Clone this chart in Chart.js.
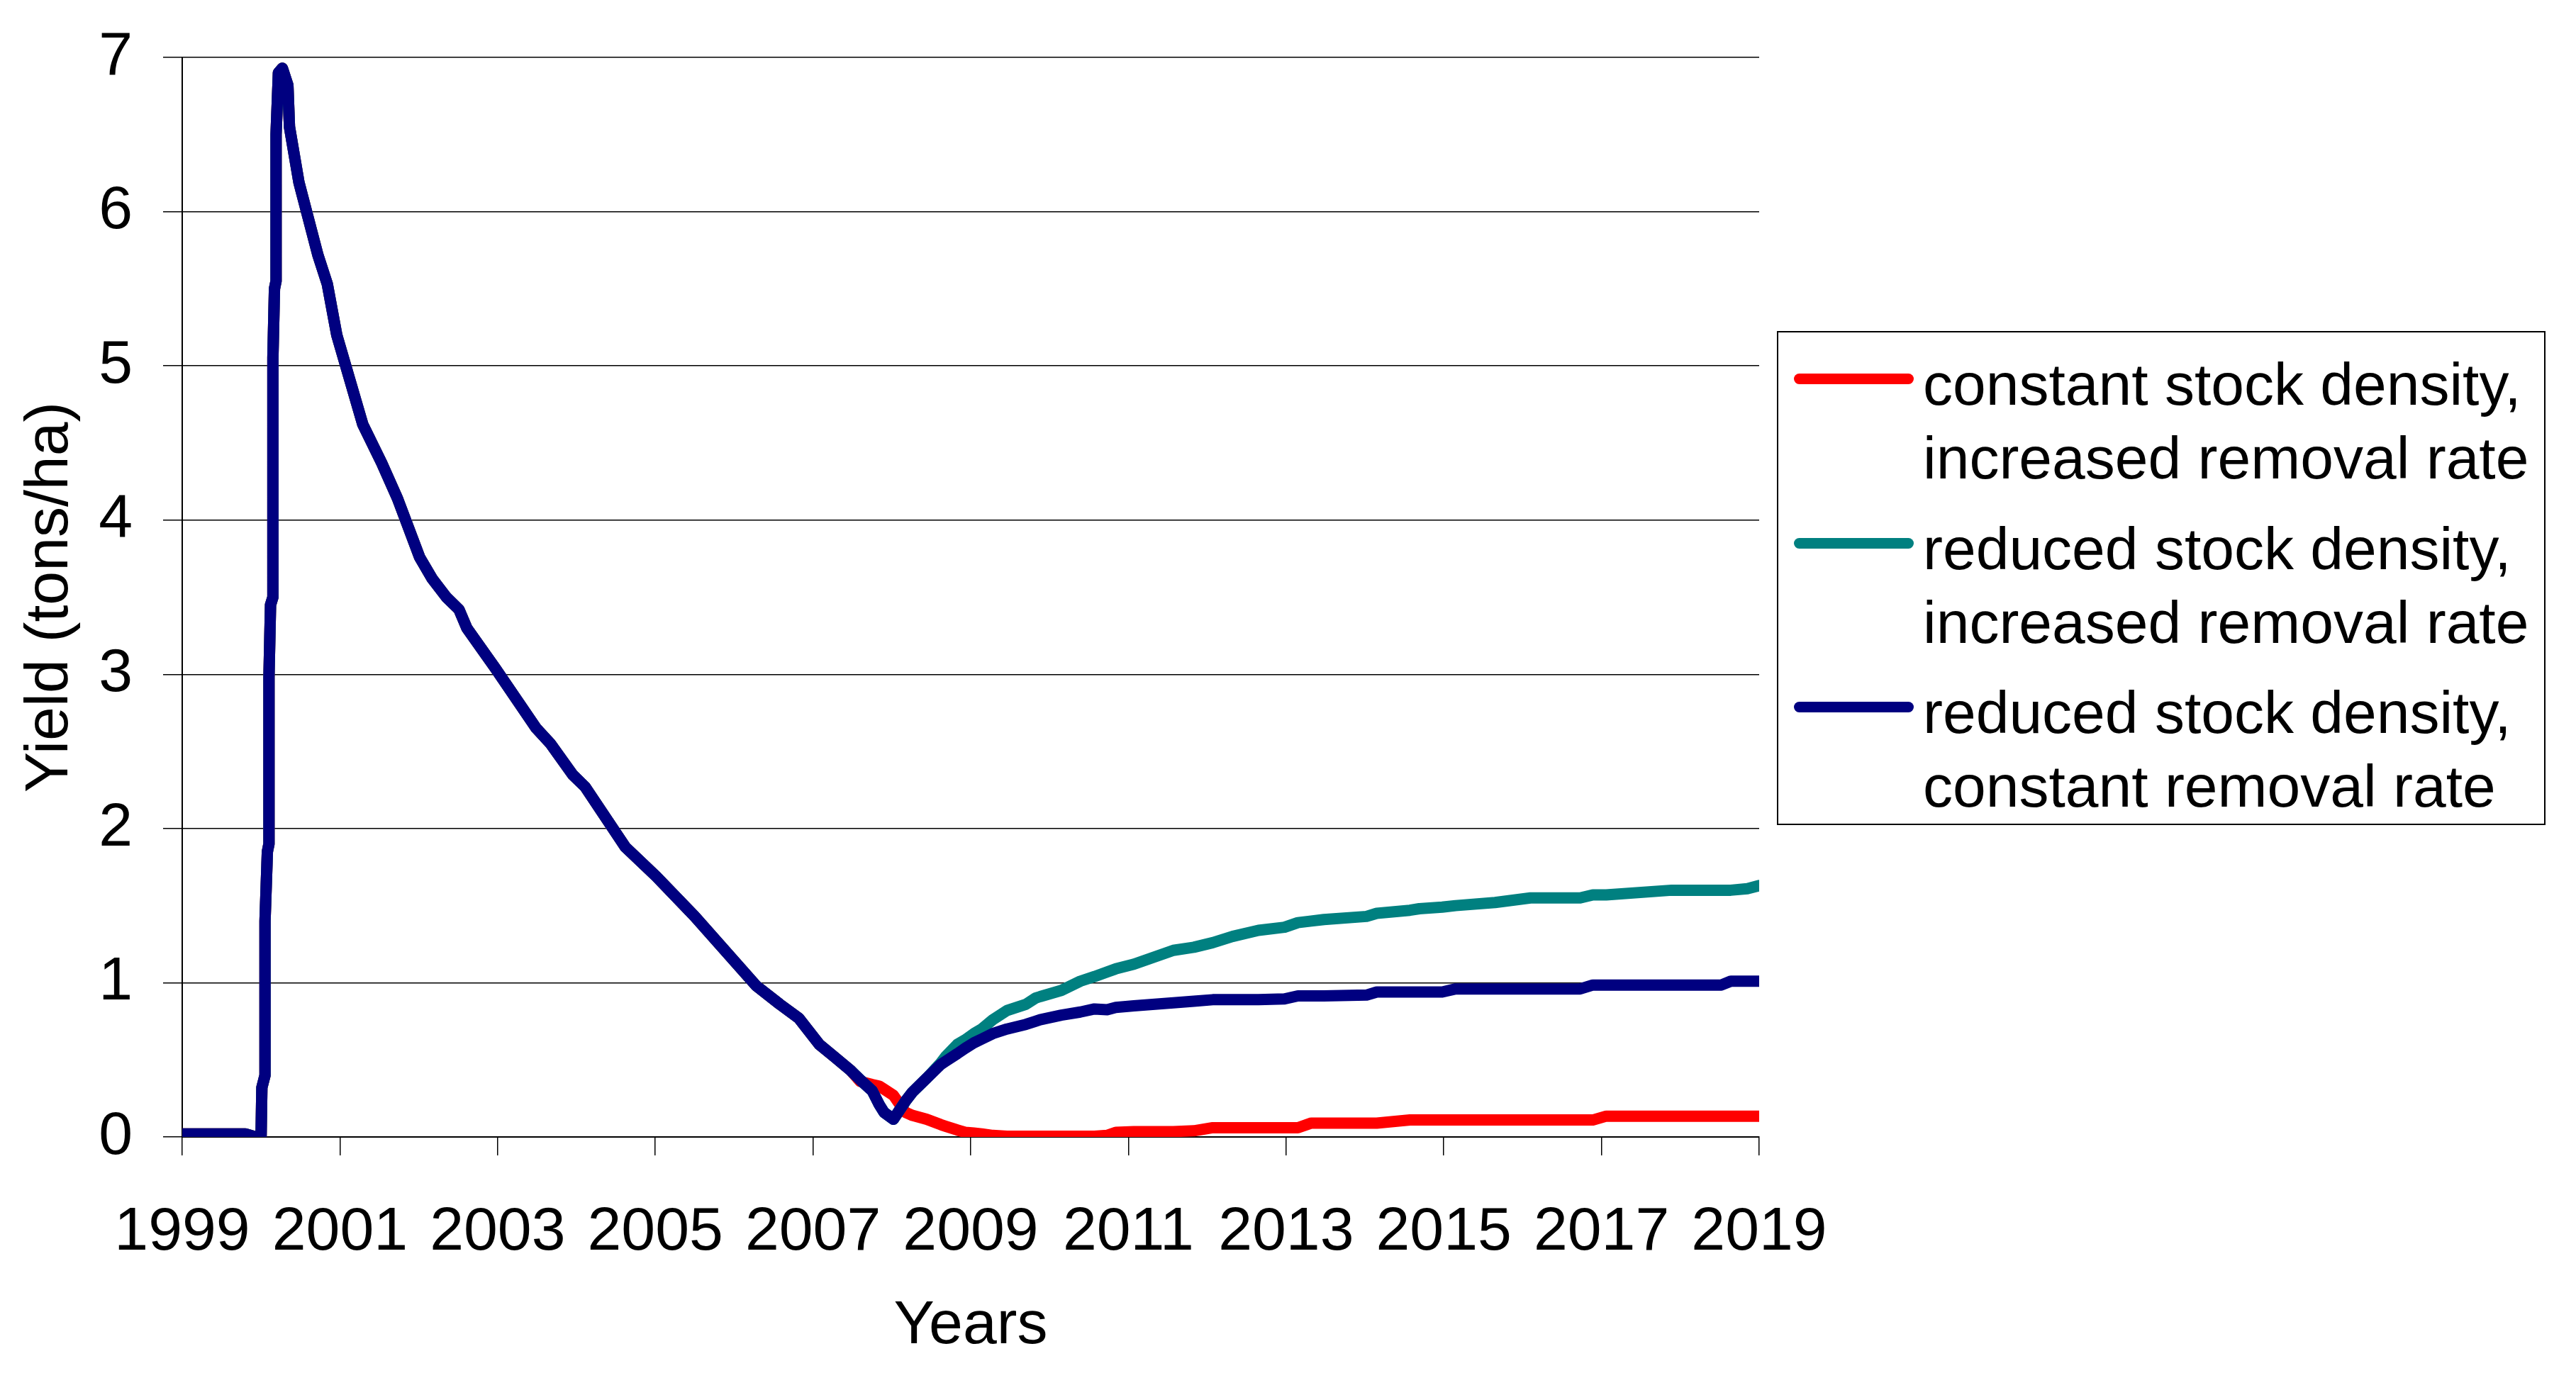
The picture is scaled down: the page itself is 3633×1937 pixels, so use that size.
<!DOCTYPE html>
<html>
<head>
<meta charset="utf-8">
<script src="https://cdn.jsdelivr.net/npm/chart.js@4.4.1/dist/chart.umd.min.js"></script>
<style>
  html, body { margin: 0; padding: 0; background: #fff; }
  #wrap { position: relative; width: 3633px; height: 1937px; }
  #myChart { display: block; }
  #legend {
    position: absolute; left: 2506px; top: 467px; width: 1084px; height: 697px;
    border: 2px solid #000; box-sizing: border-box; background: #fff;
  }
  .item { position: absolute; left: 0; height: 208px; width: 100%; }
  .swatch { position: absolute; left: 22px; top: 37px; width: 169px; height: 15px; border-radius: 8px; }
  .txt {
    position: absolute; left: 204px; top: 0; white-space: nowrap;
    font-family: "Liberation Sans", Arial, sans-serif; font-size: 84px; line-height: 104px; color: #000;
  }
</style>
</head>
<body>
<div id="wrap">
  <canvas id="myChart" width="3633" height="1937"></canvas>
  <div id="legend"></div>
</div>
<script>
// time axis (years), shared by all three series
var years = [
  1999.00, 1999.80, 1999.93, 2000.00, 2000.01, 2000.05, 2000.05, 2000.08, 2000.10, 2000.10,
  2000.12, 2000.15, 2000.15, 2000.17, 2000.19, 2000.19, 2000.22, 2000.27, 2000.34, 2000.36,
  2000.48, 2000.72, 2000.84, 2000.96, 2001.29, 2001.53, 2001.73, 2002.01, 2002.17, 2002.35,
  2002.51, 2002.61, 2002.97, 2003.49, 2003.67, 2003.95, 2004.11, 2004.62, 2005.01, 2005.50,
  2006.28, 2006.58, 2006.82, 2007.08, 2007.27, 2007.48,
  2007.60, 2007.75, 2007.84, 2007.90, 2008.02, 2008.17, 2008.26, 2008.44, 2008.62, 2008.68,
  2008.83, 2008.93, 2009.04, 2009.14, 2009.28, 2009.46, 2009.70, 2009.82, 2009.88, 2010.15,
  2010.39, 2010.57, 2010.73, 2010.84, 2011.07, 2011.57, 2011.83, 2012.07, 2012.32, 2012.65,
  2012.98, 2013.15, 2013.32, 2013.48, 2014.02, 2014.15, 2014.57, 2014.69, 2014.98, 2015.15,
  2015.65, 2016.10, 2016.73, 2016.89, 2017.06, 2017.89, 2018.52, 2018.64, 2018.85, 2019.00
];

// shared early part (all three runs coincide until late 2007)
var early = [
  0.02, 0.02, 0.00, 0.00, 0.32, 0.40, 1.40, 1.85, 1.90, 2.98,
  3.45, 3.50, 5.05, 5.50, 5.55, 6.50, 6.90, 6.93, 6.82, 6.55,
  6.19, 5.72, 5.53, 5.20, 4.62, 4.37, 4.14, 3.76, 3.62, 3.50,
  3.42, 3.30, 3.04, 2.65, 2.55, 2.35, 2.27, 1.88, 1.69, 1.43,
  0.98, 0.86, 0.77, 0.60, 0.52, 0.43
];

var constantStockLate = [
  0.36, 0.34, 0.33, 0.31, 0.27, 0.16, 0.14, 0.115, 0.08, 0.07,
  0.045, 0.03, 0.025, 0.02, 0.01, 0.005, 0.005, 0.005, 0.005, 0.005,
  0.005, 0.005, 0.01, 0.03, 0.035, 0.035, 0.04, 0.06, 0.06, 0.06,
  0.06, 0.06, 0.09, 0.09, 0.09, 0.09, 0.11, 0.11, 0.11, 0.11,
  0.11, 0.11, 0.11, 0.11, 0.135, 0.135, 0.135, 0.135, 0.135, 0.135
];

var reducedIncreasedLate = [
  0.37, 0.30, 0.21, 0.16, 0.115, 0.23, 0.29, 0.38, 0.48, 0.52,
  0.60, 0.63, 0.67, 0.70, 0.76, 0.82, 0.86, 0.90, 0.91, 0.95,
  1.01, 1.04, 1.07, 1.09, 1.12, 1.21, 1.23, 1.26, 1.30, 1.34,
  1.36, 1.39, 1.40, 1.41, 1.43, 1.45, 1.47, 1.48, 1.49, 1.50,
  1.52, 1.55, 1.55, 1.57, 1.57, 1.60, 1.60, 1.60, 1.61, 1.63
];

var reducedConstantLate = [
  0.37, 0.30, 0.21, 0.16, 0.115, 0.23, 0.29, 0.38, 0.47, 0.49,
  0.54, 0.575, 0.61, 0.635, 0.67, 0.70, 0.73, 0.75, 0.76, 0.79,
  0.81, 0.83, 0.825, 0.84, 0.85, 0.87, 0.88, 0.89, 0.89, 0.89,
  0.895, 0.915, 0.915, 0.915, 0.92, 0.94, 0.94, 0.94, 0.94, 0.96,
  0.96, 0.96, 0.96, 0.985, 0.985, 0.985, 0.985, 1.01, 1.01, 1.01
];

var seriesNames = [
  ['constant stock density,', 'increased removal rate'],
  ['reduced stock density,', 'increased removal rate'],
  ['reduced stock density,', 'constant removal rate']
];
var seriesColors = ['#ff0000', '#008080', '#000080'];

var xTicks = [1999, 2001, 2003, 2005, 2007, 2009, 2011, 2013, 2015, 2017, 2019];
var yTicks = [0, 1, 2, 3, 4, 5, 6, 7];

var seriesValues = [
  early.concat(constantStockLate),
  early.concat(reducedIncreasedLate),
  early.concat(reducedConstantLate)
];

function toPoints(vals) {
  return vals.map(function (v, i) { return { x: years[i], y: v }; });
}

Chart.defaults.font.family = '"Liberation Sans", Arial, sans-serif';
Chart.defaults.color = '#000';

var ctx = document.getElementById('myChart').getContext('2d');
var myChart = new Chart(ctx, {
    type: 'line',
    data: {
        datasets: seriesValues.map(function (vals, i) {
            return {
                label: seriesNames[i].join(' '),
                data: toPoints(vals),
                borderColor: seriesColors[i],
                backgroundColor: seriesColors[i],
                borderWidth: 16,
                borderJoinStyle: 'round',
                borderCapStyle: 'round',
                pointRadius: 0,
                tension: 0,
                clip: 0,
                order: 2 - i   // blue on top, like the original
            };
        })
    },
    options: {
        responsive: false,
        animation: false,
        layout: { padding: { left: 0, top: 81, right: 1152, bottom: 0 } },
        plugins: {
            legend: { display: false },
            tooltip: { enabled: false }
        },
        scales: {
            x: {
                type: 'linear',
                min: 1999,
                max: 2019,
                afterBuildTicks: function (s) { s.ticks = xTicks.map(function (v) { return { value: v }; }); },
                afterFit: function (s) { s.height = 333; },
                ticks: {
                    font: { size: 86 },
                    padding: 58,
                    maxRotation: 0,
                    autoSkip: false,
                    callback: function (v) { return String(v); }
                },
                grid: {
                    drawOnChartArea: false,
                    tickLength: 26,
                    color: '#000',
                    lineWidth: 1.5
                },
                border: { display: true, color: '#000', width: 2 },
                title: {
                    display: true,
                    text: 'Years',
                    font: { size: 86 },
                    padding: { top: 0, bottom: 14 }
                }
            },
            y: {
                min: 0,
                max: 7,
                afterBuildTicks: function (s) { s.ticks = yTicks.map(function (v) { return { value: v }; }); },
                afterFit: function (s) {
                    s.width = 257;
                    // keep the plot top where the original has it
                    s.paddingTop = 40;
                    s.paddingBottom = 40;
                },
                ticks: {
                    font: { size: 86 },
                    padding: 43
                },
                grid: {
                    color: '#000',
                    lineWidth: 1.5,
                    tickLength: 27
                },
                border: { display: true, color: '#000', width: 2 },
                title: {
                    display: true,
                    text: 'Yield (tons/ha)',
                    font: { size: 86 },
                    padding: { top: 20, bottom: 0 }
                }
            }
        }
    }
});

// legend box on the right, two-line labels
var legend = document.getElementById('legend');
seriesNames.forEach(function (lines, i) {
    var item = document.createElement('div');
    item.className = 'item';
    item.style.top = (21 + i * 231.5) + 'px';
    var sw = document.createElement('div');
    sw.className = 'swatch';
    sw.style.background = seriesColors[i];
    var txt = document.createElement('div');
    txt.className = 'txt';
    txt.innerHTML = lines.join('<br>');
    item.appendChild(sw);
    item.appendChild(txt);
    legend.appendChild(item);
});
</script>
</body>
</html>
